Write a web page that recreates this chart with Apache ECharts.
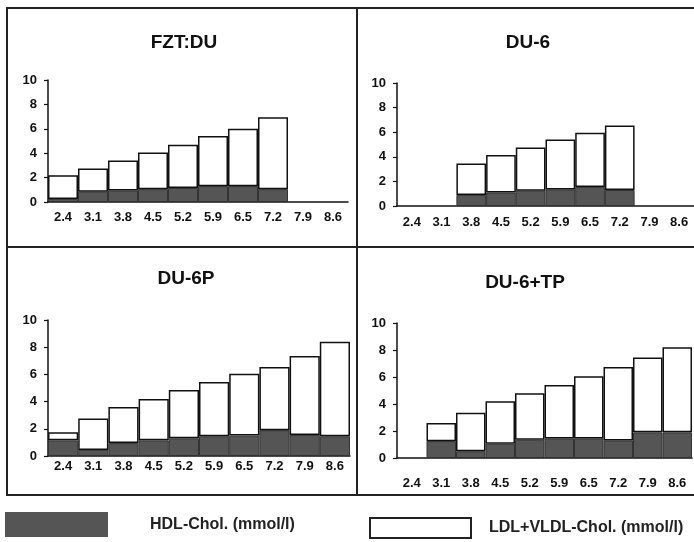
<!DOCTYPE html>
<html>
<head>
<meta charset="utf-8">
<script src="https://cdn.jsdelivr.net/npm/echarts@6/dist/echarts.min.js"></script>
<style>
html,body{margin:0;padding:0;background:#fff;}
#c{width:694px;height:542px;}
</style>
</head>
<body>
<div id="c"></div>
<script>
const categories = ['2.4','3.1','3.8','4.5','5.2','5.9','6.5','7.2','7.9','8.6'];
const panelTitles = ['FZT:DU','DU-6','DU-6P','DU-6+TP'];
const seriesNames = ['HDL-Chol. (mmol/l)','LDL+VLDL-Chol. (mmol/l)'];
const yMin = 0, yMax = 10, yStep = 2;

const hdlFZT  = [0.25,0.85,0.95,1.05,1.15,1.3,1.3,1.05,'-','-'];
const ldlFZT  = [1.95,1.9,2.45,3.0,3.55,4.1,4.7,5.9,'-','-'];
const hdlDU6  = ['-','-',0.9,1.1,1.25,1.35,1.55,1.3,'-','-'];
const ldlDU6  = ['-','-',2.55,3.05,3.5,4.05,4.4,5.25,'-','-'];
const hdlDU6P = [1.15,0.45,0.95,1.15,1.3,1.45,1.5,1.9,1.55,1.45];
const ldlDU6P = [0.6,2.3,2.65,3.05,3.55,4.0,4.55,4.65,5.8,6.95];
const hdlDU6TP = ['-',1.25,0.5,1.05,1.35,1.45,1.45,1.3,1.9,1.9];
const ldlDU6TP = ['-',1.35,2.85,3.15,3.45,3.95,4.6,5.45,5.55,6.3];

const hdlData = [hdlFZT, hdlDU6, hdlDU6P, hdlDU6TP];
const ldlData = [ldlFZT, ldlDU6, ldlDU6P, ldlDU6TP];

const FONT = '"Liberation Sans", Arial, sans-serif';
const DARK = '#555555';

const grids = [
  {left: 48, top: 80, width: 300, height: 122},
  {left: 397, top: 83, width: 300, height: 123},
  {left: 48, top: 320, width: 302, height: 136},
  {left: 397, top: 323, width: 295, height: 135}
];
const xLabelMargins = [9, 10, 4, 19];
const titlePos = [[184, 33], [528, 33], [186, 269], [525, 273]];

const xAxis = [], yAxis = [], series = [], title = [];
for (let i = 0; i < 4; i++) {
  xAxis.push({
    type: 'category', gridIndex: i, data: categories,
    axisLine: {lineStyle: {color: '#111', width: 1.5}},
    axisTick: {show: false},
    axisLabel: {interval: 0, margin: xLabelMargins[i], color: '#111',
      fontFamily: FONT, fontWeight: 'bold', fontSize: 13}
  });
  yAxis.push({
    type: 'value', gridIndex: i, min: yMin, max: yMax, interval: yStep,
    axisLine: {show: true, lineStyle: {color: '#111', width: 1.5}},
    axisTick: {show: true, length: 4, lineStyle: {color: '#111', width: 1.2}},
    splitLine: {show: false},
    axisLabel: {margin: 11, color: '#111', fontFamily: FONT, fontWeight: 'bold', fontSize: 13}
  });
  series.push({
    name: seriesNames[0], type: 'bar', xAxisIndex: i, yAxisIndex: i,
    stack: 'p' + i, data: hdlData[i], barCategoryGap: '0%',
    itemStyle: {color: DARK, borderColor: '#333', borderWidth: 1},
    emphasis: {disabled: true}, animation: false
  });
  series.push({
    name: seriesNames[1], type: 'bar', xAxisIndex: i, yAxisIndex: i,
    stack: 'p' + i, data: ldlData[i], barCategoryGap: '0%',
    itemStyle: {color: '#ffffff', borderColor: '#111', borderWidth: 1.5},
    emphasis: {disabled: true}, animation: false
  });
  title.push({
    text: panelTitles[i], left: titlePos[i][0], top: titlePos[i][1],
    textAlign: 'center', padding: 0,
    textStyle: {fontFamily: FONT, fontWeight: 'bold', fontSize: 19, color: '#111'}
  });
}

const border = {stroke: '#222', lineWidth: 2, fill: 'transparent'};
const option = {
  backgroundColor: '#fff',
  animation: false,
  title: title,
  grid: grids,
  xAxis: xAxis,
  yAxis: yAxis,
  series: series,
  legend: [
    {data: [seriesNames[0]], left: 5, top: 512, padding: 0,
     itemWidth: 103, itemHeight: 25, icon: 'rect',
     itemStyle: {borderWidth: 0},
     textStyle: {fontFamily: FONT, fontWeight: 'bold', fontSize: 16, color: '#222', padding: [0, 0, 0, 37]}},
    {data: [seriesNames[1]], left: 369, top: 517, padding: 0,
     itemWidth: 101, itemHeight: 20, icon: 'rect',
     itemStyle: {borderWidth: 2, borderColor: '#222'},
     textStyle: {fontFamily: FONT, fontWeight: 'bold', fontSize: 16, color: '#222', padding: [0, 0, 0, 13]}}
  ],
  graphic: [
    {type: 'rect', shape: {x: 7, y: 8, width: 350, height: 239}, style: border, silent: true},
    {type: 'rect', shape: {x: 357, y: 8, width: 340, height: 239}, style: border, silent: true},
    {type: 'rect', shape: {x: 7, y: 247, width: 350, height: 248}, style: border, silent: true},
    {type: 'rect', shape: {x: 357, y: 247, width: 340, height: 248}, style: border, silent: true}
  ]
};

const chart = echarts.init(document.getElementById('c'), null, {renderer: 'canvas'});
chart.setOption(option);
</script>
</body>
</html>
